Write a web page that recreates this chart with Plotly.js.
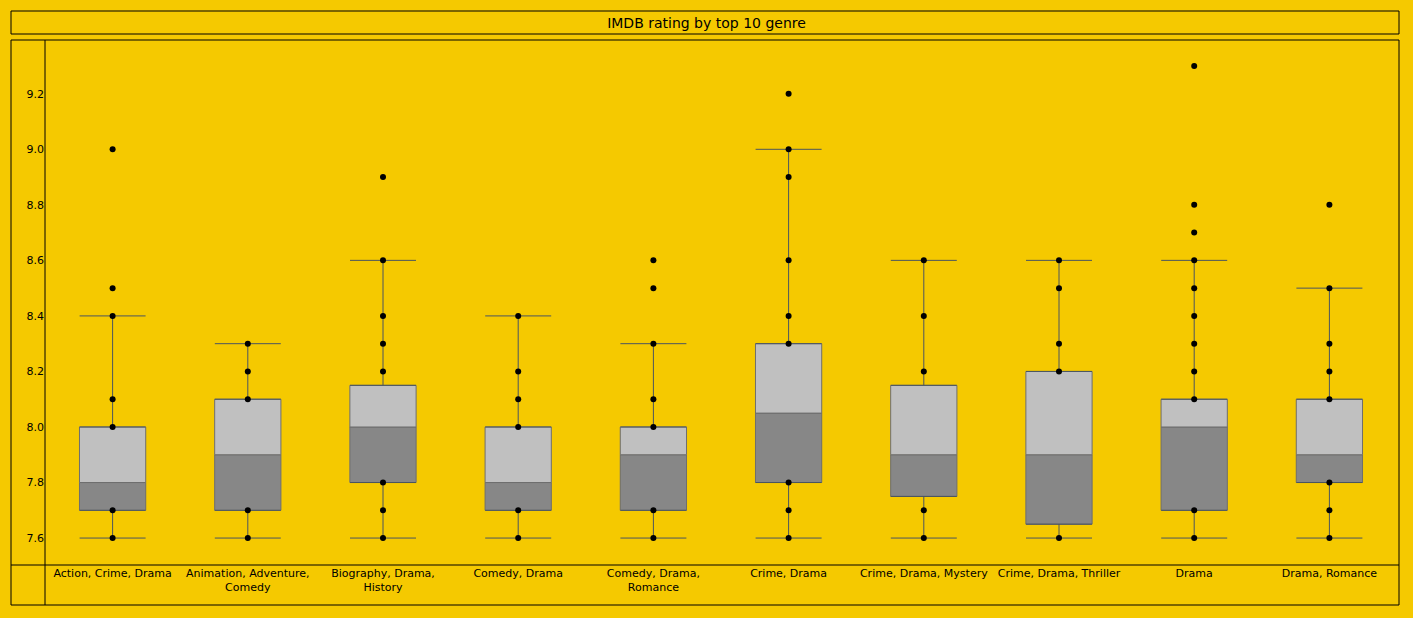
<!DOCTYPE html>
<html>
<head>
<meta charset="utf-8">
<script src="https://cdn.plot.ly/plotly-3.0.1.min.js"></script>
<style>
  html, body { margin: 0; padding: 0; background: #e6e6e6; }
  #chart { width: 1413px; height: 618px; }
</style>
</head>
<body>
<div id="chart"></div>
<script>
// genres (x categories)
const genres = [
  'Action, Crime, Drama', 'Animation, Adventure,<br>Comedy', 'Biography, Drama,<br>History',
  'Comedy, Drama', 'Comedy, Drama,<br>Romance', 'Crime, Drama', 'Crime, Drama, Mystery',
  'Crime, Drama, Thriller', 'Drama', 'Drama, Romance'
];
// box stats
const lowerWhisker = [7.6, 7.6, 7.6, 7.6, 7.6, 7.6, 7.6, 7.6, 7.6, 7.6];
const q1 =           [7.7, 7.7, 7.8, 7.7, 7.7, 7.8, 7.75, 7.65, 7.7, 7.8];
const median =       [7.8, 7.9, 8.0, 7.8, 7.9, 8.05, 7.9, 7.9, 8.0, 7.9];
const q3 =           [8.0, 8.1, 8.15, 8.0, 8.0, 8.3, 8.15, 8.2, 8.1, 8.1];
const upperWhisker = [8.4, 8.3, 8.6, 8.4, 8.3, 9.0, 8.6, 8.6, 8.6, 8.5];
// distinct ratings plotted as dots per genre
const ratings = [
  [7.6, 7.7, 8.0, 8.1, 8.4, 8.5, 9.0],
  [7.6, 7.7, 8.1, 8.2, 8.3],
  [7.6, 7.7, 7.8, 8.2, 8.3, 8.4, 8.6, 8.9],
  [7.6, 7.7, 8.0, 8.1, 8.2, 8.4],
  [7.6, 7.7, 8.0, 8.1, 8.3, 8.5, 8.6],
  [7.6, 7.7, 7.8, 8.3, 8.4, 8.6, 8.9, 9.0, 9.2],
  [7.6, 7.7, 8.2, 8.4, 8.6],
  [7.6, 8.2, 8.3, 8.5, 8.6],
  [7.6, 7.7, 8.1, 8.2, 8.3, 8.4, 8.5, 8.6, 8.7, 8.8, 9.3],
  [7.6, 7.7, 7.8, 8.1, 8.2, 8.3, 8.5, 8.8]
];
const yTicks = [7.6, 7.8, 8.0, 8.2, 8.4, 8.6, 8.8, 9.0, 9.2];

const boxW = 0.49;
const whiskerColor = '#4a5560';
const traces = [
  { type: 'bar', x: genres, base: q1, y: median.map((m, i) => m - q1[i]), width: boxW,
    marker: { color: '#878787', line: { color: '#6e6e6e', width: 1 } }, hoverinfo: 'skip' },
  { type: 'bar', x: genres, base: median, y: q3.map((q, i) => q - median[i]), width: boxW,
    marker: { color: '#c0c0c0', line: { color: '#6e6e6e', width: 1 } }, hoverinfo: 'skip' },
  // upper whisker
  { type: 'scatter', mode: 'markers', x: genres, y: q3, marker: { size: 0.1, color: 'rgba(0,0,0,0)' },
    error_y: { type: 'data', symmetric: false, array: upperWhisker.map((u, i) => u - q3[i]),
      arrayminus: genres.map(() => 0), color: whiskerColor, thickness: 1, width: 33 }, hoverinfo: 'skip' },
  // lower whisker
  { type: 'scatter', mode: 'markers', x: genres, y: q1, marker: { size: 0.1, color: 'rgba(0,0,0,0)' },
    error_y: { type: 'data', symmetric: false, array: genres.map(() => 0),
      arrayminus: lowerWhisker.map((l, i) => q1[i] - l), color: whiskerColor, thickness: 1, width: 33 }, hoverinfo: 'skip' },
  { type: 'scatter', mode: 'markers',
    x: ratings.flatMap((r, i) => r.map(() => genres[i])), y: ratings.flat(),
    marker: { color: '#000', size: 6 } }
];

// pixel -> paper helpers for the frame lines
const L = 45, R = 1397, T = 41, B = 565;
const px = v => (v - L) / (R - L);
const py = v => (B - v) / (B - T);
const line = { color: '#000', width: 1 };

const layout = {
  width: 1413, height: 618,
  paper_bgcolor: '#f5c900', plot_bgcolor: '#f5c900',
  margin: { l: L, r: 1413 - R, t: T, b: 618 - B },
  barmode: 'overlay', showlegend: false,
  font: { family: 'DejaVu Sans, Verdana, sans-serif', size: 11, color: '#000' },
  title: { text: 'IMDB rating by top 10 genre', x: 0.5, xanchor: 'center', y: 1 - 23 / 618, yanchor: 'middle',
    font: { size: 14, color: '#000' } },
  xaxis: { type: 'category', showgrid: false, zeroline: false, showline: false, ticks: '',
    tickfont: { size: 11 }, range: [-0.5, 9.5] },
  yaxis: { range: [7.503, 9.39], tickvals: yTicks, ticktext: yTicks.map(v => v.toFixed(1)),
    showgrid: false, zeroline: false, showline: false, ticks: '', tickfont: { size: 11 } },
  shapes: [
    { type: 'rect', xref: 'paper', yref: 'paper', x0: px(11), x1: px(1399), y0: py(11), y1: py(34), line },
    { type: 'rect', xref: 'paper', yref: 'paper', x0: px(11), x1: px(1399), y0: py(40), y1: py(605), line },
    { type: 'line', xref: 'paper', yref: 'paper', x0: 0, x1: 0, y0: py(40), y1: py(605), line },
    { type: 'line', xref: 'paper', yref: 'paper', x0: px(11), x1: px(1399), y0: 0, y1: 0, line }
  ]
};

Plotly.newPlot('chart', traces, layout, { displayModeBar: false, staticPlot: true });
</script>
</body>
</html>
